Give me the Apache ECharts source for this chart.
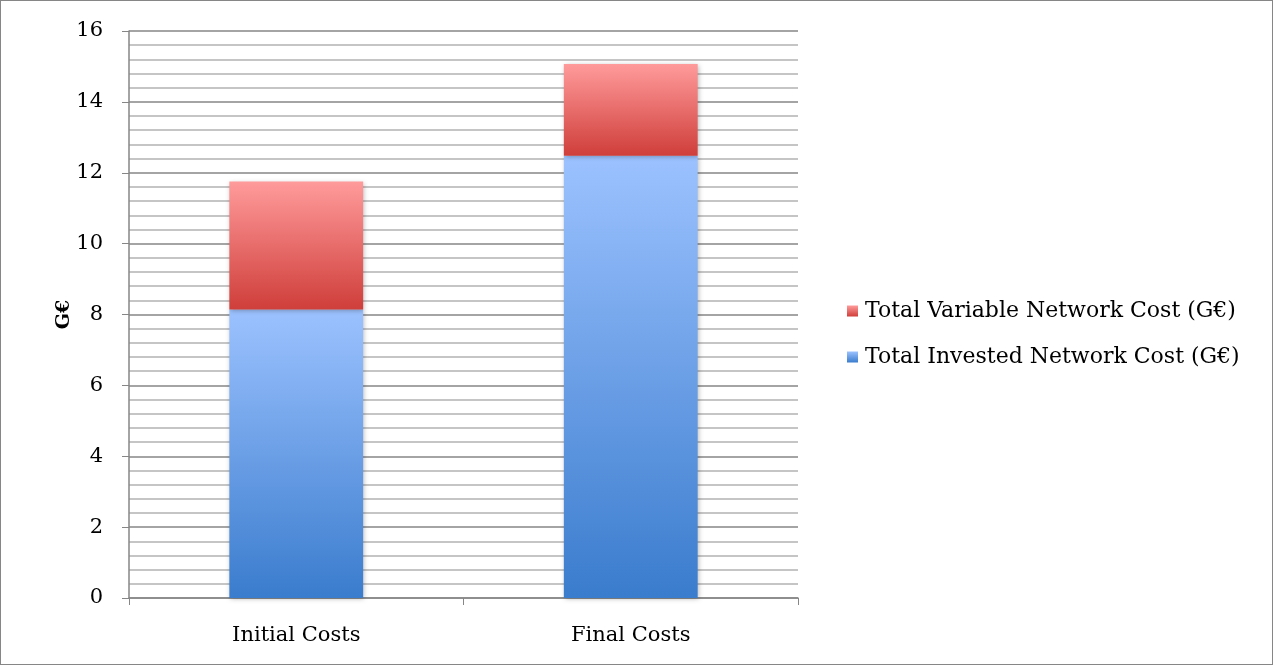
<!DOCTYPE html>
<html><head><meta charset="utf-8">
<script src="https://cdn.jsdelivr.net/npm/echarts@6/dist/echarts.min.js"></script>
<style>html,body{margin:0;padding:0;background:#fff}#c{width:1273px;height:665px;box-sizing:border-box;border:1px solid #868686}</style>
</head><body><div id="c"></div>
<script>
const categories = ['Initial Costs', 'Final Costs'];
const investedCost = [8.14, 12.48];
const variableCost = [3.61, 2.59];
const seriesNames = ['Total Invested Network Cost (G€)', 'Total Variable Network Cost (G€)'];
const yTicks = [0, 2, 4, 6, 8, 10, 12, 14, 16];

const FONT = 'DejaVu Serif';
const chart = echarts.init(document.getElementById('c'));
function grad(top, bottom) {
  return new echarts.graphic.LinearGradient(0, 0, 0, 1, [{offset: 0, color: top}, {offset: 1, color: bottom}]);
}
const shadow = {shadowBlur: 5, shadowColor: 'rgba(0,0,0,0.3)', shadowOffsetX: 1, shadowOffsetY: 1};
chart.setOption({
  animation: false,
  grid: {left: 128, right: 474, top: 30, bottom: 66, containLabel: false},
  xAxis: {
    type: 'category', data: categories,
    axisLine: {lineStyle: {color: '#868686', width: 1.5}},
    axisTick: {show: true, length: 7, lineStyle: {color: '#868686'}},
    axisLabel: {color: '#000', fontFamily: FONT, fontSize: 21, margin: 27}
  },
  yAxis: {
    type: 'value', min: yTicks[0], max: yTicks[yTicks.length - 1], interval: 2,
    name: 'G€', nameLocation: 'middle', nameGap: 55, nameRotate: 90, nameMoveOverlap: false,
    nameTextStyle: {fontFamily: FONT, fontWeight: 'bold', fontSize: 19, color: '#000'},
    axisLine: {show: true, lineStyle: {color: '#868686', width: 1.5}},
    axisTick: {show: true, length: 7, lineStyle: {color: '#868686'}},
    axisLabel: {color: '#000', fontFamily: FONT, fontSize: 21, margin: 26},
    splitLine: {show: true, lineStyle: {color: '#868686', width: 1.5}},
    minorTick: {show: false, splitNumber: 5},
    minorSplitLine: {show: true, lineStyle: {color: '#b3b3b3', width: 1.5}}
  },
  legend: {
    orient: 'vertical', left: 841, top: 294, itemGap: 24,
    itemWidth: 11, itemHeight: 11,
    data: [seriesNames[1], seriesNames[0]],
    textStyle: {fontFamily: FONT, fontSize: 22, color: '#000', padding: [0, 0, 0, 2]},
    icon: 'rect'
  },
  series: [
    {name: seriesNames[0], type: 'bar', stack: 'a', data: investedCost, barWidth: '40%',
     itemStyle: Object.assign({color: grad('#9cc2ff', '#3a7ccd')}, shadow)},
    {name: seriesNames[1], type: 'bar', stack: 'a', data: variableCost, barWidth: '40%',
     itemStyle: Object.assign({color: grad('#ff9b9b', '#cf3e3a')}, shadow)}
  ]
});
</script></body></html>
